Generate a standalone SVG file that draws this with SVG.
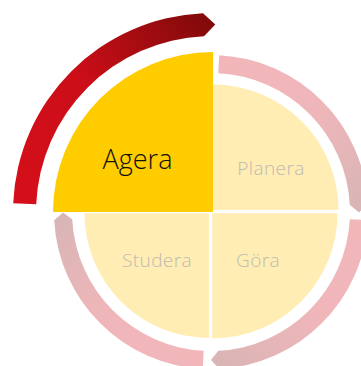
<svg xmlns="http://www.w3.org/2000/svg" width="361" height="366" viewBox="0 0 361 366">
  <style>
    .pale { fill: #FFEDB3; }
    .lbl { font-family: "Open Sans", Lato, sans-serif; font-size: 19px; font-weight: 300; fill: #BDBBB4; text-anchor: middle; letter-spacing: 0.4px; }
    .main { font-family: "Open Sans", Lato, sans-serif; font-size: 27px; font-weight: 300; fill: #111111; text-anchor: middle; }
    .ring { fill-opacity: 0.3; }
  </style>
  <defs>
    <linearGradient id="gR" gradientUnits="userSpaceOnUse" x1="13" y1="204" x2="215" y2="24">
      <stop offset="0" stop-color="#D50F1A"/>
      <stop offset="0.5" stop-color="#CB0E18"/>
      <stop offset="1" stop-color="#800A0A"/>
    </linearGradient>
    <linearGradient id="gP" href="#gR" gradientUnits="userSpaceOnUse" x1="219" y1="55" x2="359" y2="212"/>
    <linearGradient id="gG" href="#gR" gradientUnits="userSpaceOnUse" x1="359" y1="220" x2="211" y2="360"/>
    <linearGradient id="gS" href="#gR" gradientUnits="userSpaceOnUse" x1="203" y1="360" x2="63" y2="212"/>
  </defs>
  <rect width="361" height="366" fill="#FFFFFF"/>

  <g id="connectors">
    <path id="arc-agera" fill="url(#gR)" d="M13.2 203.3 A199 199 0 0 1 203 13.2 L215.3 24.5 L204 36.2 A176 176 0 0 0 36.2 204.3 Z"/>
    <path id="arc-planera" class="ring" fill="url(#gP)" d="M219.2 55.2 A157 157 0 0 1 367.8 203.8 L359 212.5 L349.8 204.7 A139 139 0 0 0 218.3 73.2 Z"/>
    <path id="arc-gora" class="ring" fill="url(#gG)" d="M367.8 220.2 A157 157 0 0 1 219.2 368.8 L211 360 L218.3 350.8 A139 139 0 0 0 349.8 219.3 Z"/>
    <path id="arc-studera" class="ring" fill="url(#gS)" d="M202.8 368.8 A157 157 0 0 1 54.2 220.2 L63 212.5 L72.2 219.3 A139 139 0 0 0 203.7 350.8 Z"/>
  </g>

  <g id="planera">
    <path class="pale" d="M213 210 V84.5 A125.5 125.5 0 0 1 338.5 210 Z"/>
    <text class="lbl" x="271" y="175">Planera</text>
  </g>
  <g id="gora">
    <path class="pale" d="M212.3 213.3 H337.5 A125.2 125.2 0 0 1 212.3 338.5 Z"/>
    <text class="lbl" x="258" y="266.5">Göra</text>
  </g>
  <g id="studera">
    <path class="pale" d="M209 213.3 V338 A124.5 124.5 0 0 1 84.5 213.3 Z"/>
    <text class="lbl" x="157" y="266.5">Studera</text>
  </g>
  <g id="agera">
    <path fill="#FFCC00" d="M213 212 H53 A160 160 0 0 1 213 52 Z"/>
    <text class="main" x="137.5" y="169">Agera</text>
  </g>
</svg>
